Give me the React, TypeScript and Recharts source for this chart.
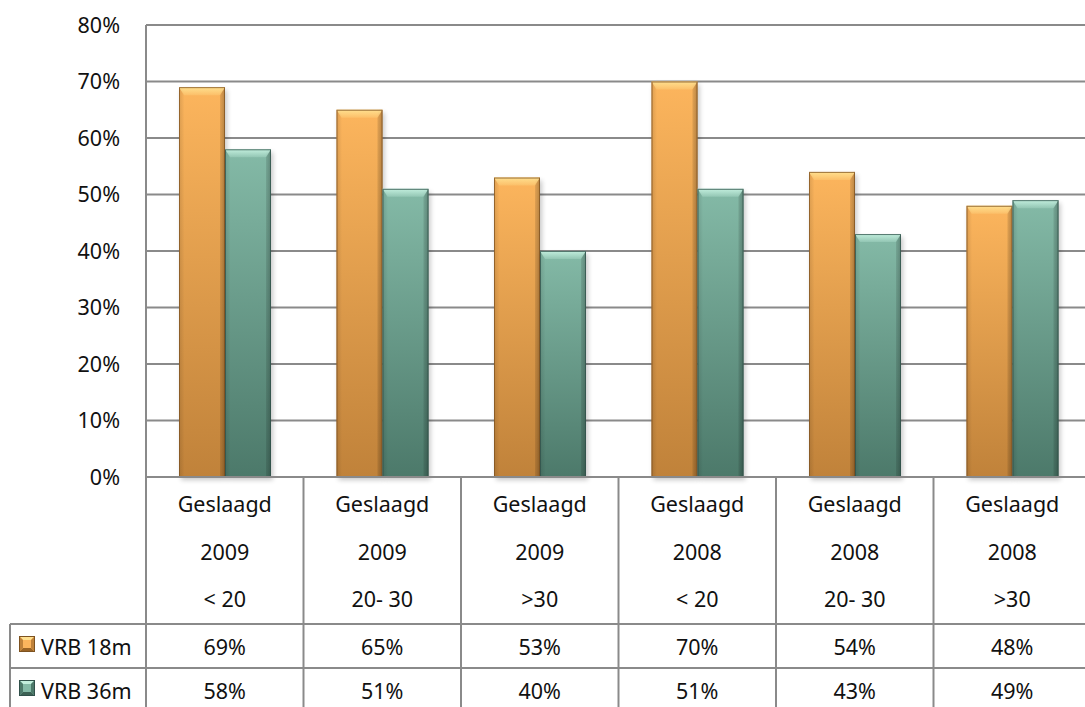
import React from "react";
import { BarChart, Bar, XAxis, YAxis, CartesianGrid } from "recharts";

const line1 = ["Geslaagd", "Geslaagd", "Geslaagd", "Geslaagd", "Geslaagd", "Geslaagd"];
const years = ["2009", "2009", "2009", "2008", "2008", "2008"];
const groups = ["< 20", "20- 30", ">30", "< 20", "20- 30", ">30"];
const vrb18 = [0.69, 0.65, 0.53, 0.7, 0.54, 0.48];
const vrb36 = [0.58, 0.51, 0.4, 0.51, 0.43, 0.49];
const seriesNames = ["VRB 18m", "VRB 36m"];
const yTicks = [0, 0.1, 0.2, 0.3, 0.4, 0.5, 0.6, 0.7, 0.8];

const data = years.map((y, i) => ({
  id: `${line1[i]} ${y} ${groups[i]} #${i}`,
  vrb18: vrb18[i],
  vrb36: vrb36[i],
}));

const FONT = "'Noto Sans', 'Open Sans', sans-serif";
const FONT_SIZE = 21.5;
const CHART_W = 1100;
const CHART_H = 720;
const TOP = 25;
const LEFT = 146;
const RIGHT = 9;
const XAXIS_H = 243;
const PLOT_BOTTOM = CHART_H - XAXIS_H; // 477
const CAT_W = (CHART_W - LEFT - RIGHT) / years.length;
const LINE = "#8a8a8a";
const ROW1 = PLOT_BOTTOM + 147; // 624
const ROW2 = ROW1 + 44; // 668

const palettes = {
  orange: { top: "#fcb55d", bottom: "#c0823a", light: "#ffe08f", dark: "#9a6426", edge: "#7d5220" },
  teal: { top: "#84baa7", bottom: "#4c796a", light: "#c2eedd", dark: "#3c6154", edge: "#30504a" },
};

type Pal = typeof palettes.orange;

const pct = (v: number) => `${Math.round(v * 100)}%`;

function BevelBar(pal: Pal, id: string) {
  return (props: any) => {
    const { x, y, width, height } = props;
    if (!height || height <= 0) return null;
    const b = Math.min(8, height / 2);
    const s = 5;
    return (
      <g>
        <defs>
          <linearGradient id={`g-${id}`} x1="0" y1="0" x2="0" y2="1">
            <stop offset="0%" stopColor={pal.top} />
            <stop offset="100%" stopColor={pal.bottom} />
          </linearGradient>
          <linearGradient id={`b-${id}`} x1="0" y1="0" x2="0" y2="1">
            <stop offset="0%" stopColor={pal.light} stopOpacity={1} />
            <stop offset="100%" stopColor={pal.light} stopOpacity={0.25} />
          </linearGradient>
          <linearGradient id={`h-${id}`} x1="0" y1="0" x2="1" y2="0">
            <stop offset="0%" stopColor="#000" stopOpacity={0.12} />
            <stop offset="12%" stopColor="#000" stopOpacity={0} />
            <stop offset="88%" stopColor="#000" stopOpacity={0} />
            <stop offset="100%" stopColor="#000" stopOpacity={0.2} />
          </linearGradient>
          <filter id={`s-${id}`} x="-20%" y="-5%" width="140%" height="115%">
            <feGaussianBlur stdDeviation="2.5" />
          </filter>
        </defs>
        <rect x={x + 2} y={y + 3} width={width} height={height} fill="#000" opacity={0.22} filter={`url(#s-${id})`} />
        <rect x={x} y={y} width={width} height={height} fill={`url(#g-${id})`} />
        <rect x={x} y={y} width={width} height={height} fill={`url(#h-${id})`} />
        <polygon
          points={`${x},${y} ${x + width},${y} ${x + width - s},${y + b} ${x + s},${y + b}`}
          fill={`url(#b-${id})`}
        />
        <polygon
          points={`${x + width},${y} ${x + width - s},${y + b} ${x + width - s},${y + height} ${x + width},${y + height}`}
          fill="#000"
          opacity={0.08}
        />
        <rect x={x + 0.5} y={y + 0.5} width={width - 1} height={height - 1} fill="none" stroke={pal.edge} strokeWidth={1} opacity={0.75} />
      </g>
    );
  };
}

function LegendIcon({ x, y, pal }: { x: number; y: number; pal: Pal }) {
  const w = 16;
  const b = 4;
  return (
    <g>
      <rect x={x} y={y} width={w} height={w} fill={pal.top} />
      <polygon points={`${x},${y} ${x + w},${y} ${x + w - b},${y + b} ${x + b},${y + b}`} fill={pal.light} />
      <polygon points={`${x},${y + w} ${x + w},${y + w} ${x + w - b},${y + w - b} ${x + b},${y + w - b}`} fill={pal.dark} />
      <polygon points={`${x},${y} ${x + b},${y + b} ${x + b},${y + w - b} ${x},${y + w}`} fill={pal.bottom} />
      <polygon points={`${x + w},${y} ${x + w - b},${y + b} ${x + w - b},${y + w - b} ${x + w},${y + w}`} fill={pal.bottom} />
      <rect x={x + 0.5} y={y + 0.5} width={w - 1} height={w - 1} fill="none" stroke={pal.edge} strokeWidth={1} />
    </g>
  );
}

function TableTick(props: any) {
  const { x, index } = props;
  const left = x - CAT_W / 2;
  const right = x + CAT_W / 2;
  const txt = { fontFamily: FONT, fontSize: FONT_SIZE, fill: "#111", textAnchor: "middle" as const, dominantBaseline: "central" as const };
  return (
    <g>
      <line x1={left} y1={PLOT_BOTTOM} x2={left} y2={CHART_H} stroke={LINE} strokeWidth={2} />
      <line x1={left} y1={ROW1} x2={right} y2={ROW1} stroke={LINE} strokeWidth={2} />
      <line x1={left} y1={ROW2} x2={right} y2={ROW2} stroke={LINE} strokeWidth={2} />
      <text x={x} y={PLOT_BOTTOM + 26} {...txt}>{line1[index]}</text>
      <text x={x} y={PLOT_BOTTOM + 74} {...txt}>{years[index]}</text>
      <text x={x} y={PLOT_BOTTOM + 121} {...txt}>{groups[index]}</text>
      <text x={x} y={ROW1 + 22} {...txt}>{pct(vrb18[index])}</text>
      <text x={x} y={ROW2 + 22} {...txt}>{pct(vrb36[index])}</text>
      {index === 0 && (
        <g>
          <line x1={10} y1={ROW1} x2={left} y2={ROW1} stroke={LINE} strokeWidth={2} />
          <line x1={10} y1={ROW2} x2={left} y2={ROW2} stroke={LINE} strokeWidth={2} />
          <line x1={10} y1={ROW1} x2={10} y2={CHART_H} stroke={LINE} strokeWidth={2} />
          <LegendIcon x={19} y={ROW1 + 12} pal={palettes.orange} />
          <LegendIcon x={19} y={ROW2 + 12} pal={palettes.teal} />
          <text x={41} y={ROW1 + 22} {...txt} textAnchor="start">{seriesNames[0]}</text>
          <text x={41} y={ROW2 + 22} {...txt} textAnchor="start">{seriesNames[1]}</text>
        </g>
      )}
    </g>
  );
}

export default function App() {
  return (
    <div style={{ position: "absolute", left: 0, top: 0, width: 1085, height: 707, overflow: "hidden", background: "#fff", fontFamily: FONT }}>
      <BarChart
        width={CHART_W}
        height={CHART_H}
        data={data}
        margin={{ top: TOP, right: RIGHT, left: 0, bottom: 0 }}
        barGap={0}
        barSize={46}
      >
        <CartesianGrid horizontal vertical={false} stroke={LINE} strokeWidth={2} />
        <YAxis
          width={LEFT}
          domain={[0, 0.8]}
          ticks={yTicks}
          tickFormatter={pct}
          axisLine={{ stroke: LINE, strokeWidth: 2 }}
          tickLine={false}
          tickSize={0}
          tickMargin={26}
          tick={{ fontFamily: FONT, fontSize: FONT_SIZE, fill: "#111" }}
        />
        <XAxis
          dataKey="id"
          height={XAXIS_H}
          axisLine={{ stroke: LINE, strokeWidth: 2 }}
          tickLine={false}
          interval={0}
          tick={<TableTick />}
        />
        <Bar dataKey="vrb18" name={seriesNames[0]} isAnimationActive={false} shape={BevelBar(palettes.orange, "o")} />
        <Bar dataKey="vrb36" name={seriesNames[1]} isAnimationActive={false} shape={BevelBar(palettes.teal, "t")} />
      </BarChart>
    </div>
  );
}
